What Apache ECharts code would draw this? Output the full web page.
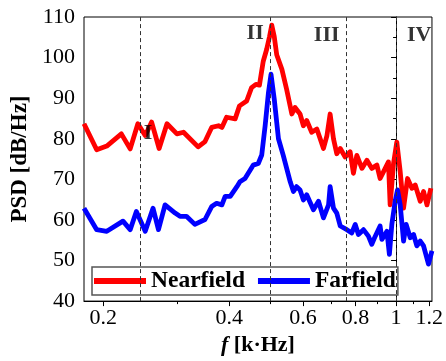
<!DOCTYPE html>
<html>
<head>
<meta charset="utf-8">
<script src="https://cdn.jsdelivr.net/npm/echarts@6/dist/echarts.min.js"></script>
<style>html,body{margin:0;padding:0;background:#fff}#c{width:446px;height:361px}</style>
</head>
<body>
<div id="c"></div>
<script>
// ---- data (frequency in kHz, PSD in dB/Hz) ----
const freqNear = [0.180,0.193,0.204,0.221,0.232,0.242,0.252,0.261,0.272,0.284,0.300,0.311,0.337,0.350,0.363,0.377,0.384,0.394,0.413,0.423,0.440,0.452,0.463,0.472,0.482,0.491,0.499,0.505,0.512,0.519,0.534,0.548,0.564,0.574,0.590,0.601,0.612,0.629,0.647,0.659,0.671,0.684,0.696,0.709,0.722,0.736,0.756,0.777,0.791,0.806,0.829,0.852,0.875,0.900,0.916,0.942,0.959,0.968,0.986,1.004,1.023,1.042,1.065,1.091,1.111,1.142,1.163,1.185,1.211];
const psdNear  = [83.7,77.3,78.2,81.2,77.5,83.7,80.8,84.1,77.6,83.7,81.2,81.6,78.0,79.3,82.8,83.2,82.8,85.3,84.9,88.1,89.3,92.6,93.4,93.2,99.1,102.0,105.2,108.0,105.2,100.7,97.1,92.2,86.1,87.7,86.1,83.2,84.5,81.6,82.4,80.0,77.6,80.8,86.1,80.0,76.3,77.6,75.5,76.8,71.5,75.9,72.7,74.7,72.7,73.5,70.2,72.7,74.3,63.7,73.9,79.2,71.9,62.9,70.2,67.8,68.6,64.6,67.0,63.7,67.8];
const freqFar  = [0.180,0.193,0.204,0.223,0.232,0.240,0.252,0.263,0.271,0.281,0.297,0.305,0.316,0.331,0.350,0.363,0.373,0.384,0.391,0.402,0.417,0.424,0.436,0.456,0.469,0.478,0.487,0.496,0.503,0.512,0.524,0.538,0.559,0.569,0.579,0.590,0.601,0.612,0.635,0.653,0.671,0.690,0.696,0.709,0.722,0.736,0.763,0.784,0.799,0.813,0.836,0.859,0.875,0.892,0.916,0.925,0.951,0.964,0.977,0.995,1.008,1.023,1.042,1.057,1.081,1.101,1.121,1.142,1.163,1.195,1.218];
const psdFar   = [62.9,57.6,57.2,59.7,57.6,62.1,57.2,62.9,57.6,63.7,61.7,60.9,60.9,58.9,60.1,63.3,64.1,63.7,65.8,65.8,68.2,69.4,70.2,73.5,73.9,76.0,83.2,91.4,95.9,89.8,80.0,75.9,69.4,67.0,68.2,67.4,64.9,66.2,62.5,64.6,60.5,63.7,68.2,62.9,61.7,58.5,57.6,56.8,58.9,56.4,57.6,56.0,54.0,56.0,58.5,55.2,57.2,51.5,58.9,64.6,67.4,63.7,54.8,58.9,55.6,56.4,53.6,54.8,53.6,49.1,52.4];
const seriesNames = ['Nearfield', 'Farfield'];
const regionLineFreq = [0.244, 0.501, 0.756, 1.01];
const regionNames = ['I', 'II', 'III', 'IV'];
const regionLabelFreq = [0.256, 0.461, 0.683, 1.135];
const regionLabelPsd = [81.4, 106.0, 105.6, 105.6];
const xTickLabels = [0.2, 0.4, 0.6, 0.8, 1, 1.2];
const xMinorTicks = [0.3, 0.5, 0.7, 0.9, 1.1];
const xMin = 0.18, xMax = 1.218;
const yMin = 40, yMax = 110, yStep = 10;

const L = Math.log10;
const pair = (fs, vs) => fs.map((f, i) => [L(f), vs[i]]);
const FONT = '"Liberation Serif", "Times New Roman", serif';

const chart = echarts.init(document.getElementById('c'), null, {renderer: 'canvas'});
const xBase = {
  type: 'value', min: L(xMin), max: L(xMax),
  splitLine: {show: false}
};
chart.setOption({
  animation: false,
  backgroundColor: '#fff',
  grid: {left: 84, right: 14, top: 17, bottom: 57, show: true, borderColor: '#000', borderWidth: 1, backgroundColor: 'transparent'},
  legend: {
    data: seriesNames,
    left: 92, top: 267,
    orient: 'horizontal',
    icon: 'rect', itemWidth: 52, itemHeight: 6, itemGap: 13,
    padding: [2, 2, 2, 2],
    borderColor: '#555', borderWidth: 1.5, backgroundColor: '#fff',
    textStyle: {fontFamily: FONT, fontWeight: 'bold', fontSize: 23.5, color: '#000'}
  },
  xAxis: [
    Object.assign({}, xBase, {
      position: 'bottom',
      name: '{i|f} [k·Hz]', nameLocation: 'middle', nameGap: 28,
      nameTextStyle: {fontFamily: FONT, fontWeight: 'bold', fontSize: 22, color: '#000',
        rich: {i: {fontFamily: FONT, fontWeight: 'bold', fontStyle: 'italic', fontSize: 22, color: '#000'}}},
      axisLine: {show: true, lineStyle: {color: '#000', width: 1}},
      axisTick: {show: true, inside: false, length: 5, lineStyle: {color: '#000'}, customValues: xTickLabels.map(L)},
      axisLabel: {show: true, margin: 6, fontFamily: FONT, fontSize: 22, color: '#000',
        customValues: xTickLabels.map(L),
        formatter: v => String(+Math.pow(10, v).toFixed(1))}
    }),
    Object.assign({}, xBase, {
      position: 'bottom',
      axisLine: {show: false},
      axisTick: {show: true, inside: false, length: 3, lineStyle: {color: '#000'}, customValues: xMinorTicks.map(L)},
      axisLabel: {show: false, customValues: xMinorTicks.map(L)}
    })
  ],
  yAxis: {
    type: 'value', min: yMin, max: yMax, interval: yStep,
    name: 'PSD [dB/Hz]', nameLocation: 'middle', nameGap: 45,
    nameTextStyle: {fontFamily: FONT, fontWeight: 'bold', fontSize: 23, color: '#000'},
    axisLine: {show: true, lineStyle: {color: '#000', width: 1}},
    axisTick: {show: true, inside: false, length: 5, lineStyle: {color: '#000'}},
    minorTick: {show: true, splitNumber: 2, length: 3, lineStyle: {color: '#000'}},
    splitLine: {show: false},
    axisLabel: {margin: 9, fontFamily: FONT, fontSize: 22, color: '#000'}
  },
  series: [
    {
      type: 'line', name: '_regions', data: [], z: 1, silent: true,
      markLine: {
        silent: true, symbol: ['none', 'none'], label: {show: false},
        lineStyle: {type: [4, 3], color: '#333', width: 1},
        data: regionLineFreq.map(f => ({xAxis: L(f)}))
      }
    },
    {
      type: 'line', name: seriesNames[0], data: pair(freqNear, psdNear), z: 3,
      showSymbol: false, symbol: 'none', smooth: false,
      lineStyle: {color: '#ff0000', width: 4.8, join: 'round'}, itemStyle: {color: '#ff0000'}
    },
    {
      type: 'line', name: seriesNames[1], data: pair(freqFar, psdFar), z: 4,
      showSymbol: false, symbol: 'none', smooth: false,
      lineStyle: {color: '#0000ff', width: 4.8, join: 'round'}, itemStyle: {color: '#0000ff'}
    },
    {
      type: 'scatter', name: '_labels', z: 5, silent: true, symbolSize: 0,
      data: regionNames.map((n, i) => ({name: n, value: [L(regionLabelFreq[i]), regionLabelPsd[i]]})),
      label: {show: true, position: 'inside', formatter: p => p.name,
        fontFamily: FONT, fontWeight: 'bold', fontSize: 22, color: '#000'}
    }
  ]
});
</script>
</body>
</html>
